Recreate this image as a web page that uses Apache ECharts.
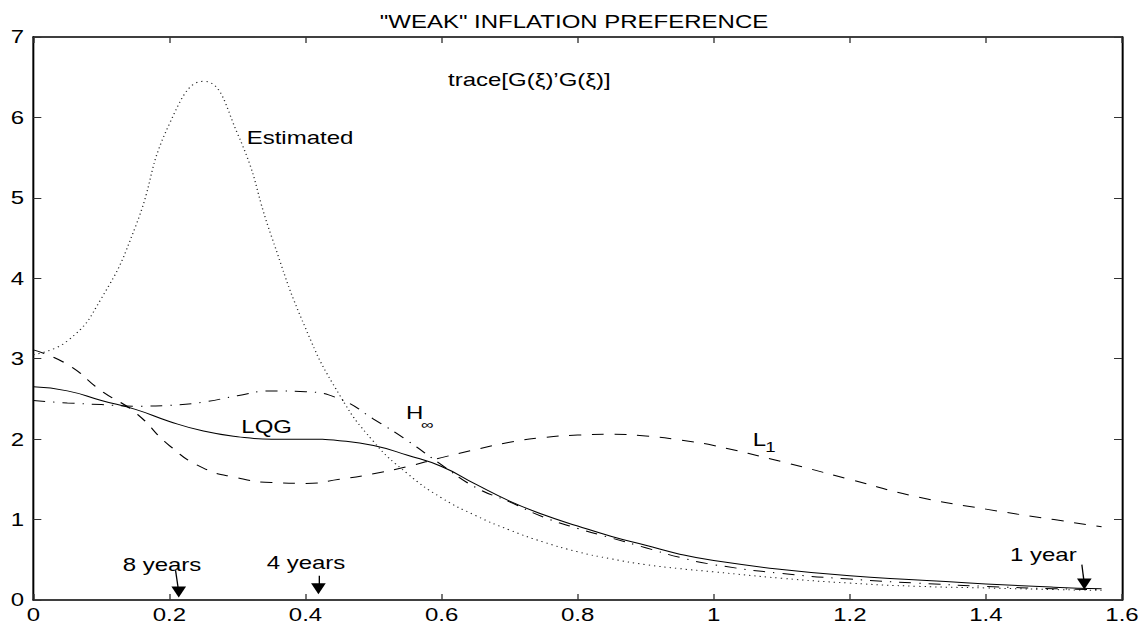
<!DOCTYPE html>
<html lang="en">
<head>
    <meta charset="UTF-8">
    <title>"WEAK" Inflation Preference</title>
    <script src="https://cdn.jsdelivr.net/npm/echarts@6/dist/echarts.min.js"></script>
    <style>
        html, body { margin: 0; padding: 0; overflow: hidden; background: #fff; }
        /* the original figure is stretched sideways, so the whole chart is drawn narrow and widened */
        #main { width: 861px; height: 626px; transform: scaleX(1.33333); transform-origin: 0 0; }
    </style>
</head>
<body>
    <div id="main"></div>
    <script type="text/javascript">

        // frequency grid (radians per quarter)
        const freq = [0, 0.05, 0.1, 0.15, 0.2, 0.25, 0.3, 0.35, 0.4, 0.45, 0.5, 0.55, 0.6, 0.65,
            0.7, 0.75, 0.8, 0.85, 0.9, 0.95, 1.0, 1.1, 1.2, 1.3, 1.4, 1.5, 1.57];

        // trace[G(xi)'G(xi)] for each rule
        const estimated = [3.05, 3.22, 3.75, 4.64, 5.92, 6.45, 5.8, 4.52, 3.38, 2.55, 1.97, 1.57, 1.27, 1.05,
            0.87, 0.72, 0.6, 0.51, 0.44, 0.39, 0.35, 0.27, 0.21, 0.17, 0.15, 0.13, 0.12];
        const lqg = [2.65, 2.6, 2.48, 2.37, 2.22, 2.1, 2.03, 2.0, 2.0, 1.98, 1.92, 1.8, 1.66, 1.44,
            1.23, 1.06, 0.92, 0.79, 0.68, 0.57, 0.49, 0.38, 0.3, 0.25, 0.2, 0.16, 0.14];
        const hinf = [2.48, 2.45, 2.43, 2.41, 2.42, 2.46, 2.54, 2.6, 2.59, 2.5, 2.25, 1.98, 1.68, 1.4,
            1.22, 1.03, 0.89, 0.77, 0.65, 0.53, 0.44, 0.33, 0.26, 0.21, 0.17, 0.14, 0.13];
        const l1 = [3.11, 2.93, 2.6, 2.33, 1.92, 1.64, 1.52, 1.46, 1.45, 1.5, 1.57, 1.66, 1.77, 1.87,
            1.96, 2.02, 2.05, 2.06, 2.04, 1.99, 1.92, 1.72, 1.5, 1.28, 1.13, 1.0, 0.91];

        // period arrows: tail and head in data units
        const arrowTail = [[0.209, 0.37], [0.419, 0.3], [1.541, 0.44]];
        const arrowHead = [[0.2137, 0.1], [0.419, 0.14], [1.5446, 0.2]];

        const font = '"Liberation Sans", Arial, sans-serif';
        const pairs = ys => freq.map((x, i) => [x, ys[i]]);

        const myChart = echarts.init(document.getElementById('main'), null, { renderer: 'svg' });

        const boxAxis = (pos, extra) => Object.assign({
            type: 'value',
            position: pos,
            axisLine: { show: true, onZero: false, lineStyle: { color: '#000', width: 1.5 } },
            axisTick: { show: true, inside: true, length: 6, lineStyle: { color: '#333', width: 1 } },
            axisLabel: { show: false },
            splitLine: { show: false }
        }, extra);

        const label = { show: true, color: '#000', fontSize: 18, fontFamily: font, margin: 7 };

        const text = (str, x, y, size) => ({
            type: 'text', x: x, y: y, silent: true,
            style: { text: str, fill: '#000', fontSize: size || 18, fontFamily: font, verticalAlign: 'middle' }
        });

        const line = (name, ys, dash, color) => ({
            name: name,
            type: 'line',
            data: pairs(ys),
            smooth: true,
            showSymbol: false,
            silent: true,
            lineStyle: { color: color || '#000', width: 1, type: dash }
        });

        const lqgSeries = line('LQG', lqg, 'solid');
        lqgSeries.markLine = {
            silent: true,
            symbol: ['none', 'triangle'],
            symbolSize: 11,
            symbolRotate: 180,
            label: { show: false },
            lineStyle: { color: '#000', type: 'solid', width: 1 },
            itemStyle: { color: '#000' },
            data: arrowTail.map((t, i) => [{ coord: t }, { coord: arrowHead[i] }])
        };

        const option = {
            animation: false,
            backgroundColor: '#fff',
            title: {
                text: '"WEAK" INFLATION PREFERENCE',
                left: 'center',
                top: 8,
                textStyle: { color: '#000', fontSize: 18, fontWeight: 'normal', fontFamily: font }
            },
            grid: { left: 25, right: 19.5, top: 37, bottom: 26 },
            xAxis: [
                boxAxis('bottom', { min: 0, max: 1.6, interval: 0.2, axisLabel: Object.assign({}, label, { margin: 6 }) }),
                boxAxis('top', { min: 0, max: 1.6, interval: 0.2 })
            ],
            yAxis: [
                boxAxis('left', { min: 0, max: 7, interval: 1, axisLabel: label }),
                boxAxis('right', { min: 0, max: 7, interval: 1 })
            ],
            graphic: [
                text('trace[G(ξ)’G(ξ)]', 336, 80),
                text('Estimated', 185, 138),
                text('LQG', 181, 427),
                text('H', 304.5, 413),
                text('∞', 316, 424, 13),
                text('L', 564.5, 440),
                text('1', 574, 447, 14),
                text('8 years', 92, 565),
                text('4 years', 200, 563),
                text('1 year', 757.5, 555)
            ],
            series: [
                line('Estimated', estimated, [1, 3], '#222'),
                lqgSeries,
                line('H-infinity', hinf, [9, 6, 1, 6]),
                line('L1', l1, [9, 8])
            ]
        };

        myChart.setOption(option);
    </script>
</body>
</html>
